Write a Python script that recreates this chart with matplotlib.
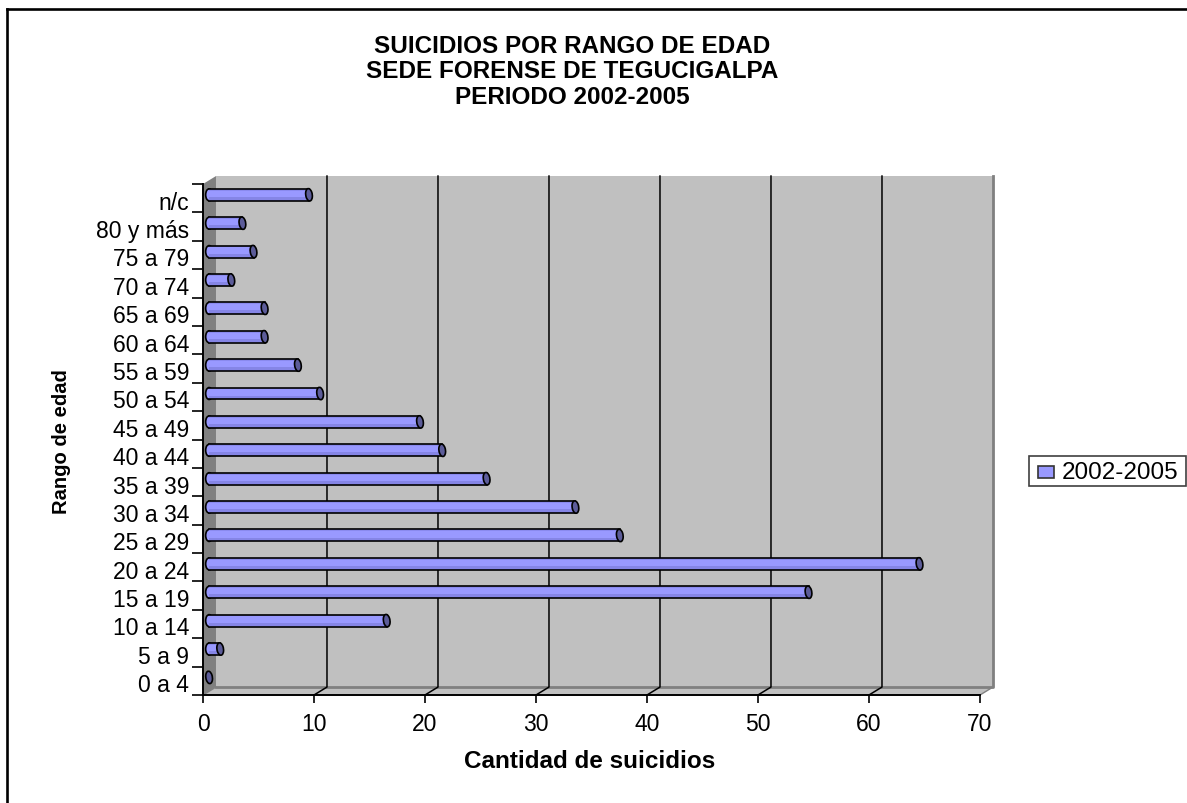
import matplotlib
matplotlib.use('Agg')
import matplotlib.pyplot as plt
from matplotlib.lines import Line2D
from matplotlib.patches import Polygon, Ellipse, Rectangle

plt.rcParams['font.family'] = ['Liberation Sans', 'DejaVu Sans']

# data
rangos = ['0 a 4', '5 a 9', '10 a 14', '15 a 19', '20 a 24', '25 a 29', '30 a 34', '35 a 39', '40 a 44',
          '45 a 49', '50 a 54', '55 a 59', '60 a 64', '65 a 69', '70 a 74', '75 a 79', '80 y más', 'n/c']
suicidios = [0, 1, 16, 54, 64, 37, 33, 25, 21, 19, 10, 8, 5, 5, 2, 4, 3, 9]
xticks = [0, 10, 20, 30, 40, 50, 60, 70]

W, H = 1187, 804
fig = plt.figure(figsize=(W / 100, H / 100), dpi=100)
ax = fig.add_axes([203 / W, 1 - 696 / H, 777 / W, 511 / H])
ax.set_xlim(0, 70)
ax.set_ylim(0, len(rangos))

# 3d depth of the box, in data units
dx = 1.17
dy = 0.28
n = len(rangos)

# outer chart frame, only left and top fall inside the image
fig.add_artist(Line2D([7 / W, 7 / W], [0, 1 - 10 / H], color='black', lw=1.9))
fig.add_artist(Line2D([7 / W, 1], [1 - 10 / H, 1 - 10 / H], color='black', lw=1.9))

# walls
ax.add_patch(Polygon([(dx, dy), (70 + dx, dy), (70 + dx, n + dy), (dx, n + dy)], fc='#c0c0c0', ec='none', zorder=1, clip_on=False))
ax.add_patch(Polygon([(0, 0), (dx, dy), (dx, n + dy), (0, n)], fc='#808080', ec='none', zorder=1, clip_on=False))
ax.add_patch(Polygon([(0, 0), (70, 0), (70 + dx, dy), (dx, dy)], fc='#c0c0c0', ec='none', zorder=1, clip_on=False))
ax.plot([dx, 70 + dx, 70 + dx], [dy, dy, n + dy], color='#808080', lw=2, zorder=2, clip_on=False)
ax.plot([70, 70 + dx], [0, dy], color='#808080', lw=1, zorder=2, clip_on=False)
ax.plot([0, dx], [0, dy], color='#808080', lw=1, zorder=2, clip_on=False)

# gridlines on the back wall, with the short step down on the floor
for t in xticks[1:-1]:
    ax.plot([t, t + dx, t + dx], [0, dy, n + dy], color='black', lw=1.1, zorder=3, clip_on=False)

# cylinders
off_x = 0.55
off_y = 0.62
bar_h = 0.42
cap_w = 0.62
for i, v in enumerate(suicidios):
    y = i + off_y
    if v > 0:
        ax.add_patch(Ellipse((off_x, y), cap_w, bar_h, fc='#9999ff', ec='black', lw=1.2, zorder=4, clip_on=False))
        ax.barh(y, v, height=bar_h, left=off_x, color='#9999ff', edgecolor='none', zorder=4)
        ax.barh(y - bar_h * 0.33, v, height=bar_h * 0.3, left=off_x, color='#8585e6', edgecolor='none', zorder=4)
        ax.barh(y + bar_h * 0.42, v, height=bar_h * 0.14, left=off_x, color='#8a8aee', edgecolor='none', zorder=4)
        ax.plot([off_x, off_x + v], [y + bar_h / 2, y + bar_h / 2], color='black', lw=1.2, zorder=4.5)
        ax.plot([off_x, off_x + v], [y - bar_h / 2, y - bar_h / 2], color='black', lw=1.2, zorder=4.5)
    ax.add_patch(Ellipse((off_x + v, y), cap_w, bar_h, angle=-15, fc='#5c5c99', ec='black', lw=1.2, zorder=5))

ax.set_xticks(xticks)
ax.set_yticks(range(n + 1))
ax.set_yticklabels([])
ax.set_yticks([i + 0.45 for i in range(n)], labels=rangos, minor=True)
ax.tick_params(axis='y', which='minor', length=0, pad=10, labelsize=16.5)
ax.tick_params(axis='y', which='major', length=8, width=1.2, direction='out', color='black')
ax.tick_params(axis='x', length=6, width=1.2, direction='out', pad=6, labelsize=16.5)
for s in ['top', 'right']:
    ax.spines[s].set_visible(False)
for s in ['left', 'bottom']:
    ax.spines[s].set_linewidth(1.4)
    ax.spines[s].set_zorder(6)
ax.patch.set_visible(False)

fig.text(590 / W, 1 - 762 / H, 'Cantidad de suicidios', ha='center', va='center', fontsize=17.5, fontweight='bold')
fig.text(62 / W, 1 - 442 / H, 'Rango de edad', rotation=90, ha='center', va='center', fontsize=14.5, fontweight='bold')
fig.text(572 / W, 1 - 72 / H, 'SUICIDIOS POR RANGO DE EDAD\nSEDE FORENSE DE TEGUCIGALPA\nPERIODO 2002-2005',
         ha='center', va='center', fontsize=17.5, fontweight='bold', linespacing=1.12)

# legend box
fig.add_artist(Rectangle((1029 / W, 1 - 487 / H), 157 / W, 30 / H, transform=fig.transFigure,
                         fc='white', ec='#404040', lw=1.2, zorder=7))
fig.add_artist(Rectangle((1038 / W, 1 - 479 / H), 16 / W, 12 / H, transform=fig.transFigure,
                         fc='#9999ff', ec='#333333', lw=1.2, zorder=8))
fig.text(1062 / W, 1 - 473 / H, '2002-2005', va='center', ha='left', fontsize=17.5, zorder=8)

fig.savefig('out.png', dpi=100)
